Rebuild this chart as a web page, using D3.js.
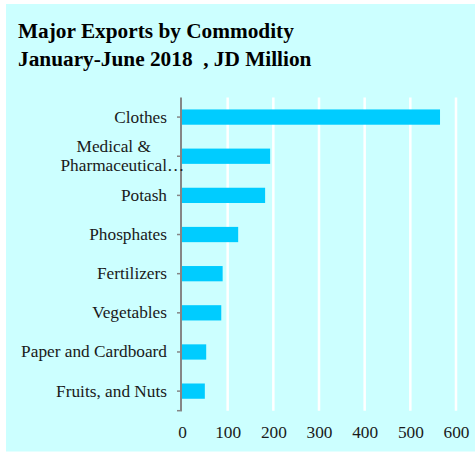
<!DOCTYPE html>
<html>
<head>
<meta charset="utf-8">
<script src="https://cdn.jsdelivr.net/npm/d3@7"></script>
<style>
  html, body { margin: 0; padding: 0; background: #ffffff; }
  svg { display: block; }
  text { font-family: "Liberation Serif", "Times New Roman", serif; }
</style>
</head>
<body>
<svg id="chart" width="475" height="452"></svg>
<script>
// Major exports, January-June 2018, JD million
const categories = [
  "Clothes",
  "Medical & Pharmaceutical Products",
  "Potash",
  "Phosphates",
  "Fertilizers",
  "Vegetables",
  "Paper and Cardboard",
  "Fruits, and Nuts"
];
// labels as shown on the axis (long names are cut with an ellipsis)
const categoryLabels = [
  ["Clothes"],
  ["Medical &", "Pharmaceutical…"],
  ["Potash"],
  ["Phosphates"],
  ["Fertilizers"],
  ["Vegetables"],
  ["Paper and Cardboard"],
  ["Fruits, and Nuts"]
];
const values = [565, 193, 182, 123, 89, 86, 53, 50];
const xTicks = [0, 100, 200, 300, 400, 500, 600];
const titleLines = ["Major Exports by Commodity", "January-June 2018  , JD Million"];

const svg = d3.select("#chart");
const labelSize = 17.3;

// panel background
svg.append("rect")
  .attr("x", 6).attr("y", 4)
  .attr("width", 469).attr("height", 447.5)
  .attr("fill", "#ccffff");

// title
svg.append("g").selectAll("text")
  .data(titleLines)
  .join("text")
  .attr("x", 18)
  .attr("y", (d, i) => 37.7 + i * 28)
  .attr("font-size", 21.3)
  .attr("font-weight", "bold")
  .attr("fill", "#000")
  .style("white-space", "pre")
  .text(d => d);

const plotTop = 97.5, plotBottom = 410.7;
const x = d3.scaleLinear().domain([0, 600]).range([182, 456]);
const y = d3.scaleBand()
  .domain(categories)
  .range([plotTop, plotBottom])
  .paddingInner(0.61)
  .paddingOuter(0.305);

// vertical gridlines
svg.append("g").selectAll("line")
  .data(xTicks.filter(t => t > 0))
  .join("line")
  .attr("x1", d => x(d)).attr("x2", d => x(d))
  .attr("y1", plotTop).attr("y2", plotBottom)
  .attr("stroke", "#ffffff")
  .attr("stroke-width", 2.5);

// bars
svg.append("g").selectAll("rect")
  .data(categories)
  .join("rect")
  .attr("x", x(0))
  .attr("y", d => y(d))
  .attr("width", (d, i) => x(values[i]) - x(0))
  .attr("height", y.bandwidth())
  .attr("fill", "#00ccff");

// category axis
const yAxis = svg.append("g")
  .attr("transform", `translate(${x(0) - 1},0)`)
  .call(d3.axisLeft(y).tickSize(4).tickSizeOuter(0).tickFormat(""));
yAxis.select(".domain").remove();
yAxis.selectAll(".tick line").attr("stroke", "#868686").attr("stroke-width", 1.5);
yAxis.append("line")
  .attr("x1", 0).attr("x2", 0)
  .attr("y1", plotTop).attr("y2", plotBottom)
  .attr("stroke", "#868686").attr("stroke-width", 2);
yAxis.append("line")
  .attr("x1", -4).attr("x2", 1)
  .attr("y1", plotBottom).attr("y2", plotBottom)
  .attr("stroke", "#868686").attr("stroke-width", 1.5);

// category labels
const labelRight = 167;
const lineGap = 19.5;
const labels = svg.append("g");
categories.forEach((c, i) => {
  const lines = categoryLabels[i];
  const cy = y(c) + y.bandwidth() / 2;
  const baseY = cy + 5.5 - (lines.length - 1) * lineGap / 2;
  if (lines.length === 1) {
    labels.append("text")
      .attr("x", labelRight).attr("y", baseY)
      .attr("text-anchor", "end")
      .attr("font-size", labelSize).attr("fill", "#1a1a1a")
      .text(lines[0]);
  } else {
    // wrapped label: lines centred on the last line's text without its ellipsis
    const last = lines[lines.length - 1];
    const core = last.replace("…", "");
    const probe = labels.append("text").attr("font-size", labelSize).text(core);
    const coreW = probe.node().getComputedTextLength();
    probe.remove();
    const center = labelRight - coreW / 2;
    lines.forEach((ln, j) => {
      const t = labels.append("text")
        .attr("y", baseY + j * lineGap)
        .attr("font-size", labelSize).attr("fill", "#1a1a1a")
        .text(ln);
      if (j === lines.length - 1) {
        t.attr("x", labelRight - coreW).attr("text-anchor", "start");
      } else {
        t.attr("x", center).attr("text-anchor", "middle");
      }
    });
  }
});

// value axis labels
const xAxis = svg.append("g")
  .attr("transform", `translate(0,${plotBottom})`)
  .call(d3.axisBottom(x).tickValues(xTicks).tickSize(0).tickPadding(0).tickFormat(d3.format("d")));
xAxis.select(".domain").remove();
xAxis.selectAll(".tick text")
  .attr("dy", null)
  .attr("y", 27.5)
  .attr("font-size", labelSize)
  .attr("font-family", "Liberation Serif, Times New Roman, serif")
  .attr("fill", "#1a1a1a");
</script>
</body>
</html>
